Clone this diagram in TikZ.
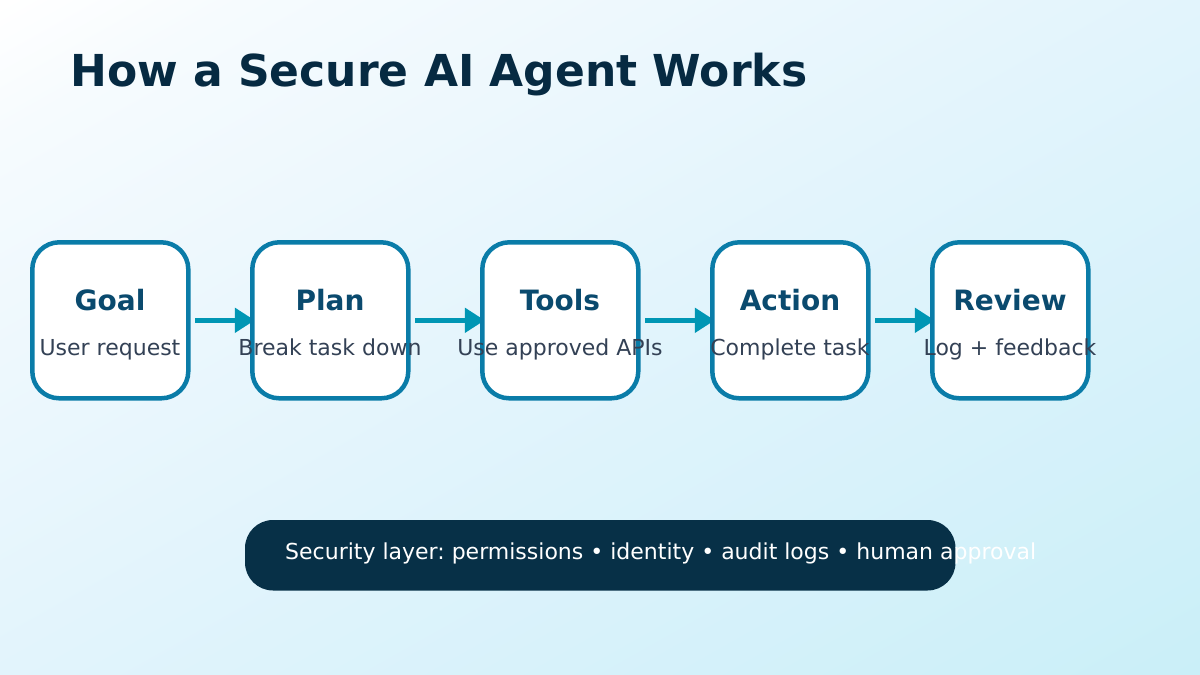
\documentclass[tikz,border=0pt]{standalone}
\usepackage{fontspec}
\setmainfont{DejaVu Sans}
\usetikzlibrary{arrows.meta,backgrounds}
\definecolor{boxline}{HTML}{0A7CA8}
\definecolor{arrowcol}{HTML}{0096B4}
\definecolor{titlecol}{HTML}{062A42}
\definecolor{headcol}{HTML}{0A4A6E}
\definecolor{subcol}{HTML}{334155}
\definecolor{pillcol}{HTML}{073047}
\definecolor{bgA}{HTML}{FFFFFF}
\definecolor{bgB}{HTML}{F6FBFE}
\definecolor{bgC}{HTML}{E2F4FC}
\definecolor{bgD}{HTML}{CAEFF8}
\pgfdeclareverticalshading{bggrad}{100bp}{color(0bp)=(bgD); color(14.64bp)=(bgD); color(50bp)=(bgC); color(78.3bp)=(bgB); color(85.36bp)=(bgA); color(100bp)=(bgA)}
\pgfdeclarelayer{bglayer}
\pgfdeclarelayer{arrowlayer}
\pgfsetlayers{bglayer,arrowlayer,main}
\frenchspacing
\tikzset{
  x=1pt,y=-1pt,
  stagebox/.style={draw=boxline,fill=white,line width=4.5pt,rounded corners=27pt,minimum width=156pt,minimum height=156pt,inner sep=0pt},
  stagehead/.style={font=\fontsize{28}{34}\selectfont\bfseries,text=headcol,anchor=base,inner sep=0pt},
  stagesub/.style={font=\fontsize{22}{26}\selectfont,text=subcol,anchor=base,inner sep=0pt},
  flow/.style={draw=arrowcol,line width=5pt,-{Triangle[length=20pt,width=24pt]},shorten <=4.75pt,shorten >=-4.75pt},
}
\begin{document}
\begin{tikzpicture}
\useasboundingbox (0,0) rectangle (1200,675);
\begin{pgfonlayer}{bglayer}
\shade[transform canvas={xscale=12,yscale=6.75},shading=bggrad,shading angle=45] (0,0) rectangle (100,100);
\end{pgfonlayer}
\node[anchor=base west,inner sep=0pt,font=\fontsize{44}{52}\selectfont\bfseries,text=titlecol] (title) at (70,86) {How a Secure AI Agent Works};
\node[stagebox] (goal) at (110.3,320.3) {};
\node[stagebox] (plan) at (330.3,320.3) {};
\node[stagebox] (tools) at (560.3,320.3) {};
\node[stagebox] (action) at (790.3,320.3) {};
\node[stagebox] (review) at (1010.3,320.3) {};
\begin{pgfonlayer}{arrowlayer}
\draw[flow] (goal.east) -- (plan.west);
\draw[flow] (plan.east) -- (tools.west);
\draw[flow] (tools.east) -- (action.west);
\draw[flow] (action.east) -- (review.west);
\end{pgfonlayer}
\node[stagehead] (goalh) at (110,310) {Goal};
\node[stagehead] (planh) at (330,310) {Plan};
\node[stagehead] (toolsh) at (560,310) {Tools};
\node[stagehead] (actionh) at (790,310) {Action};
\node[stagehead] (reviewh) at (1010,310) {Review};
\node[stagesub] (goals) at (110,355) {User request};
\node[stagesub] (plans) at (330,355) {Break task down};
\node[stagesub] (toolss) at (560,355) {Use approved APIs};
\node[stagesub] (actions) at (790,355) {Complete task};
\node[stagesub] (reviews) at (1010,355) {Log + feedback};
\node[fill=pillcol,rounded corners=28pt,minimum width=710.5pt,minimum height=70.5pt,inner sep=0pt] (pill) at (600.25,555.25) {};
\node[anchor=base west,inner sep=0pt,font=\fontsize{22}{26}\selectfont,text=white] (pilltext) at (285,559) {Security layer: permissions • identity • audit logs • human approval};
\end{tikzpicture}
\end{document}
